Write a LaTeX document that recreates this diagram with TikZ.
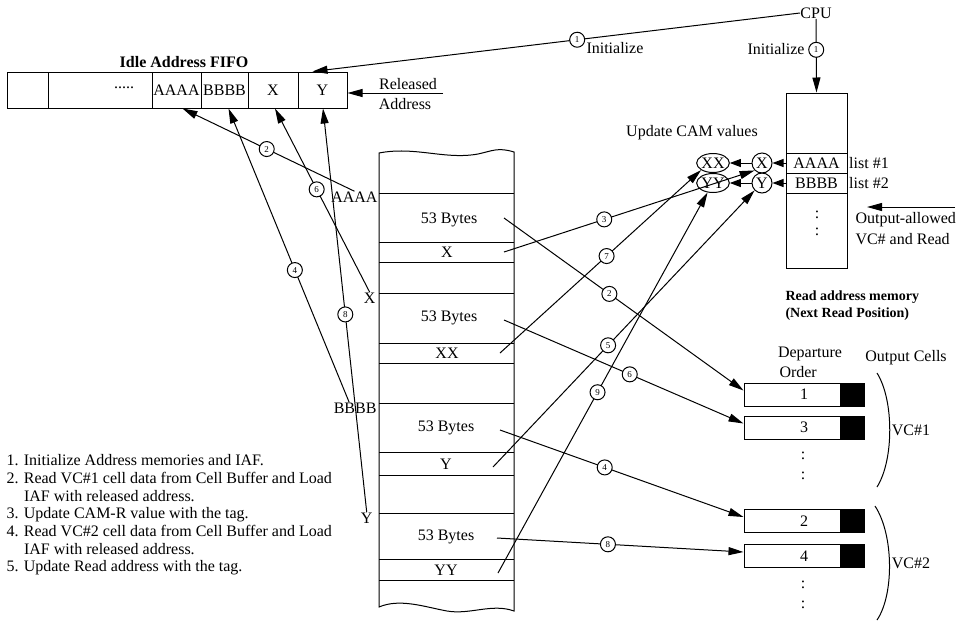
\documentclass[tikz,border=0pt]{standalone}
\usepackage{fontspec}
\setmainfont{Liberation Serif}
\usetikzlibrary{arrows.meta,shapes.geometric,calc}
\begin{document}
\begin{tikzpicture}[x=1pt,y=-1pt,
  every node/.style={font=\fontsize{16}{17.7}\selectfont, inner sep=0pt},
  bfont/.style={font=\fontsize{16}{18}\selectfont\bfseries},
  rbfont/.style={font=\fontsize{14}{16}\selectfont\bfseries},
  fcell/.style={draw, minimum height=36pt},
  rcell/.style={draw, minimum width=61pt, minimum height=20pt},
  ocell/.style={draw, minimum width=120pt, minimum height=23pt},
  arr/.style={-{Triangle[length=15pt,width=8pt]}},
  sarr/.style={-{Triangle[length=11pt,width=8pt]}},
  num/.style={circle, draw, fill=white, minimum size=15pt, font=\fontsize{9}{9}\selectfont},
  cam/.style={ellipse, draw, minimum width=30pt, minimum height=19pt},
  camr/.style={circle, draw, minimum size=20pt},
  line width=1pt]
\useasboundingbox (0,0) rectangle (960,622);

% ---------- Idle Address FIFO ----------
\node[bfont] (ttl) at (184,62) {Idle Address FIFO};
\node[fcell, minimum width=41pt] (f0) at (27.5,90) {};
\node[fcell, minimum width=104pt] (f1) at (100,90) {};
\node (fdots) at (124,88) {.....};
\node[fcell, minimum width=49pt] (fA) at (176.5,90) {AAAA};
\node[fcell, minimum width=47pt] (fB) at (224.5,90) {BBBB};
\node[fcell, minimum width=50pt] (fX) at (273,90) {X};
\node[fcell, minimum width=49pt] (fY) at (322.5,90) {Y};

\node (rel) at (408,84) {Released};
\node (radr) at (405,104) {Address};
\coordinate (rsrc) at (443,93);
\draw[arr] (rsrc) -- ([yshift=-3pt]fY.east);

% ---------- CPU ----------
\node (cpu) at (816,13) {CPU};

% ---------- Read address memory ----------
\node[draw, minimum width=61pt, minimum height=175pt] (ram) at (816.5,180.5) {};
\node[rcell] (rA) at (816.5,163) {AAAA};
\node[rcell] (rB) at (816.5,183) {BBBB};
\node (rd1) at (817,215) {:};
\node (rd2) at (817,232) {:};
\node (ls1) at (869,163) {list \#1};
\node (ls2) at (869,183) {list \#2};
\node[anchor=west, rbfont] (ramt1) at (785,297) {Read address memory};
\node[anchor=west, rbfont] (ramt2) at (785,314) {(Next Read Position)};

\draw[arr] (cpu.west) -- node[num,pos=0.457] (n1a) {1} ([xshift=-10pt]fY.north);
\node[anchor=west] (ini1) at (586,48) {Initialize};
\draw[arr] (cpu.south) -- node[num,pos=0.42] (n1b) {1} (ram.north);
\node[anchor=east] (ini2) at (805,49) {Initialize};

% ---------- CAM values ----------
\node (ucv) at (692,133) {Update CAM values};
\node[cam] (eXX) at (713,163) {XX};
\node[cam] (eYY) at (713,183) {YY};
\node[camr] (cX) at (762,163) {X};
\node[camr] (cY) at (762,183) {Y};
\draw[sarr] (rA.west) -- (cX.east);
\draw[sarr] (cX.west) -- (eXX.east);
\draw[sarr] (rB.west) -- (cY.east);
\draw[sarr] (cY.west) -- (eYY.east);

\node[anchor=west] (oa1) at (855,220) {Output-allowed};
\node[anchor=west] (oa2) at (855,239) {VC\# and Read};
\coordinate (oaS) at (955,207);
\coordinate (oaE) at (867,207);
\draw[arr] (oaS) -- (oaE);

% ---------- Cell buffer ----------
\draw (379,153) .. controls (415,146) and (445,160) .. (478,154)
      .. controls (492,151) and (498,147) .. (514,152) -- (514,611)
      .. controls (492,603) and (470,615) .. (447,611)
      .. controls (425,607) and (400,598) .. (379,607) -- cycle;
\foreach \yy in {193,242,262,293,343,363,403,452,475,513,559,580}
  \draw (379,\yy) -- (514,\yy);
\node (b1) at (449,220) {53 Bytes};
\node (t1) at (447,252) {X};
\node (b2) at (449,318) {53 Bytes};
\node (t2) at (447,353) {XX};
\node (b3) at (446,428) {53 Bytes};
\node (t3) at (446,464) {Y};
\node (b4) at (446,537) {53 Bytes};
\node (t4) at (446,570) {YY};

\node[anchor=east] (lA) at (378,197) {AAAA};
\node[anchor=east] (lX) at (376,298) {X};
\node[anchor=east] (lB) at (377,408) {BBBB};
\node[anchor=east] (lY) at (373,518) {Y};

\draw[arr] (lA.north) -- node[num,pos=0.51] {2} ([xshift=6pt]fA.south);
\draw[arr] (lX.north) -- node[num,pos=0.56] {6} ([xshift=2pt]fX.south);
\draw[arr] ([xshift=-6pt]lB.north) -- node[num,pos=0.45] {4} ([xshift=4pt]fB.south);
\draw[arr] (lY.north) -- node[num,pos=0.49] {8} ([xshift=0.5pt]fY.south);

% ---------- Output cells ----------
\node (dep) at (810,354) {Departure};
\node[anchor=west] (ord) at (779,372) {Order};
\node (oc) at (906,358) {Output Cells};
\node[ocell] (o1) at (804,394.5) {1};
\node[ocell] (o3) at (804,427.5) {3};
\node[ocell] (o2) at (804,521) {2};
\node[ocell] (o4) at (804,556) {4};
\foreach \o in {o1,o3,o2,o4}
  \fill ([xshift=-25pt]\o.north east) rectangle (\o.south east);
\node (od1) at (803,456) {:};
\node (od2) at (803,476) {:};
\node (od3) at (803,585) {:};
\node (od4) at (803,605) {:};
\draw (877,373) .. controls (894,400) and (894,460) .. (877,487);
\draw (875,506) .. controls (894,535) and (894,595) .. (877,620);
\node (vc1) at (911,430) {VC\#1};
\node (vc2) at (911,563) {VC\#2};

% ---------- connectors from the buffer to the right ----------
\coordinate (s2) at (504,218);
\coordinate (s3) at (504,252);
\coordinate (s6) at (504,320);
\coordinate (s7) at (500,353);
\coordinate (s4) at (500,430);
\coordinate (s5) at (493,467);
\coordinate (s8) at (497,538);
\coordinate (s9) at (498,573);
\draw[arr] (s2) -- node[num,pos=0.44] {2} ([yshift=4pt]o1.west);
\draw[arr] (s6) -- node[num,pos=0.525] {6} ([yshift=4pt]o3.west);
\draw[arr] (s4) -- node[num,pos=0.43] {4} ([yshift=4pt]o2.west);
\draw[arr] (s8) -- node[num,pos=0.45] {8} ([yshift=4pt]o4.west);
\draw[arr] (s3) -- node[num,pos=0.40] {3} (cX.south west);
\draw[arr] (s7) -- node[num,pos=0.53] {7} (eXX.south west);
\draw[arr] (s5) -- node[num,pos=0.44] {5} (cY.south west);
\draw[arr] (s9) -- node[num,pos=0.475] {9} (eYY.240);

% ---------- step list ----------
\node[anchor=north west, align=left] (steps) at (6,454)
 {1. Initialize Address memories and IAF.\\
  2. Read VC\#1 cell data from Cell Buffer and Load\\
  \hspace*{1.1em}IAF with released address.\\
  3. Update CAM-R value with the tag.\\
  4. Read VC\#2 cell data from Cell Buffer and Load\\
  \hspace*{1.1em}IAF with released address.\\
  5. Update Read address with the tag.};
\end{tikzpicture}
\end{document}
